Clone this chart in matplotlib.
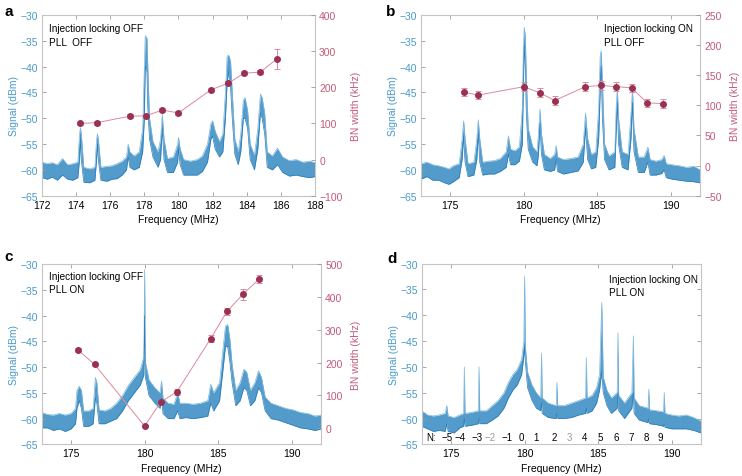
from matplotlib import pyplot as plt

plt.rcParams['font.family'] = ['Liberation Sans', 'DejaVu Sans']
plt.rcParams['font.size'] = 7.5

BLUE = '#3f90c6'
BLUE_TXT = '#4a9ac9'
PINK_TXT = '#c25b78'
DOT = '#9b3152'
LINE = '#dc8a9d'
SPINE = '#c4c4c4'

# ---- spectra (upper / lower edge of the noisy trace, dBm) ----
a_freq = [172.0, 172.3, 172.6, 172.9, 173.2, 173.5, 173.8, 174.1, 174.2, 174.25, 174.3, 174.45,
          174.8, 175.1, 175.2, 175.25, 175.3, 175.45, 175.8, 176.1, 176.4, 176.7, 176.95, 177.05,
          177.15, 177.4, 177.7, 177.9, 178.0, 178.05, 178.15, 178.2, 178.3, 178.5, 178.8, 178.95,
          179.05, 179.15, 179.35, 179.7, 179.95, 180.0, 180.1, 180.3, 180.7, 181.1, 181.4, 181.7,
          181.9, 182.0, 182.15, 182.4, 182.6, 182.75, 182.85, 182.95, 183.05, 183.15, 183.3, 183.5,
          183.65, 183.8, 183.9, 184.05, 184.2, 184.45, 184.65, 184.8, 184.9, 185.05, 185.2, 185.5,
          185.8, 186.1, 186.5, 186.9, 187.3, 187.7, 188.0]
a_hi = [-58.5, -58.8, -58.6, -59.0, -57.8, -59.0, -58.8, -58.5, -53, -51.8, -53, -59.5,
        -59.8, -59.5, -54, -53, -54, -59.5, -59.3, -59.2, -58.8, -58.3, -57.5, -55,
        -56.5, -57.3, -56.5, -52, -40, -34, -34.5, -40, -50, -54.5, -56.5, -54,
        -49.2, -54, -57.8, -57.5, -55, -53.7, -56, -58, -58.3, -58, -57.3, -55,
        -51, -50.5, -52.5, -54.5, -53, -45, -38, -37.8, -39, -45, -54, -56.5,
        -53, -46.5, -46, -48.5, -55, -57.2, -52, -45.3, -46, -49, -56.5, -57.3,
        -55.8, -57.5, -58.2, -58, -58.5, -58.3, -58.6]
a_lo = [-61.5, -61.8, -61.4, -62.0, -61.0, -61.8, -62.0, -61.5, -58, -54, -58, -62.4,
        -62.5, -62, -58, -55, -58, -62, -62.2, -61.8, -61.7, -61, -60, -57.5,
        -59.5, -60, -59.5, -56.5, -50, -40, -41, -48, -54, -57.5, -59.5, -58,
        -52, -58, -60.5, -60.5, -58.5, -56, -59, -61, -61, -61, -60.3, -58.5,
        -54, -53.5, -56, -57.5, -56.5, -50, -43, -41, -44, -50, -57, -59,
        -56.5, -50, -50, -52, -58, -60, -56, -49, -50, -53, -59.5, -60,
        -59, -60.5, -61.2, -61, -61.3, -61.5, -61.3]

b_freq = [173.0, 173.4, 173.8, 174.2, 174.6, 174.9, 175.2, 175.6, 175.8, 175.9, 176.0, 176.2,
          176.6, 176.8, 176.9, 177.0, 177.2, 177.6, 178.0, 178.4, 178.8, 178.95, 179.1, 179.4,
          179.7, 179.9, 179.97, 180.03, 180.1, 180.17, 180.3, 180.6, 180.9, 181.0, 181.1, 181.2,
          181.4, 181.8, 182.1, 182.2, 182.3, 182.7, 183.2, 183.7, 184.05, 184.2, 184.35, 184.6,
          184.9, 185.1, 185.2, 185.27, 185.35, 185.5, 185.8, 186.2, 186.3, 186.37, 186.45, 186.7,
          187.1, 187.3, 187.4, 187.5, 187.8, 188.2, 188.45, 188.6, 189.0, 189.4, 189.55, 189.7,
          190.1, 190.6, 191.1, 191.6, 192.0]
b_hi = [-58.8, -58.5, -59, -59.2, -59.5, -59.8, -59.2, -58.8, -54, -50.5, -54, -58.8,
        -58.5, -54, -50.3, -54, -58.5, -58.3, -58.2, -57.8, -56.5, -53.4, -56, -56.3,
        -55.5, -48, -36, -32.4, -34, -42, -52, -55.5, -56.5, -53, -48.2, -53,
        -57, -57.8, -57, -55.3, -57.5, -58, -57.8, -57.5, -55, -49, -54, -57,
        -56.5, -48, -38, -36.9, -43, -55, -57.3, -56.5, -47, -44.3, -50, -56.5,
        -57, -49, -44.3, -52, -57.5, -57.5, -55.6, -58, -58.3, -58, -57.2, -58.8,
        -59, -59.2, -59.5, -59.3, -60]
b_lo = [-61.8, -61.3, -62, -62, -62.5, -62.8, -62.3, -61.5, -58, -53.5, -58.5, -61.3,
        -61, -58, -53, -58.5, -61, -60.8, -60.8, -60.3, -59.5, -57, -59, -59,
        -58.3, -55, -44, -36, -40, -49, -56, -58.5, -59.2, -57, -51, -57,
        -60, -60.3, -60, -58, -60.3, -60.8, -60.5, -60.2, -58.5, -52, -58, -59.8,
        -59.5, -54, -45, -40, -50, -58, -60, -59.5, -52, -47, -55, -59.5,
        -60, -54, -47, -56.5, -60.5, -60.5, -58.5, -61, -61, -60.7, -60, -61.5,
        -61.8, -62, -62.2, -62.3, -62.5]

c_freq = [173.0, 173.4, 173.8, 174.2, 174.6, 175.0, 175.3, 175.4, 175.55, 175.7, 175.85, 176.2,
          176.5, 176.65, 176.75, 176.9, 177.3, 177.7, 178.1, 178.5, 178.9, 179.3, 179.7, 179.95,
          180.0, 180.05, 180.3, 180.7, 181.05, 181.15, 181.25, 181.6, 182.0, 182.25, 182.4, 182.8,
          183.3, 183.8, 184.3, 184.5, 184.7, 185.1, 185.35, 185.5, 185.65, 185.8, 185.95, 186.2,
          186.5, 186.75, 186.95, 187.2, 187.5, 187.75, 187.95, 188.2, 188.6, 189.1, 189.6, 190.1,
          190.6, 191.1, 191.6, 192.0]
c_hi = [-58.8, -59.2, -59.3, -59, -59.3, -59.0, -58, -54.5, -53.7, -54.5, -58.5, -58.5,
        -58, -52, -53, -58.3, -58.5, -58, -57, -55.5, -53.5, -52, -50.5, -48,
        -31, -49, -52.5, -54, -55, -52.7, -56, -57, -57.2, -55, -57, -57,
        -57.2, -57, -56.5, -53.3, -55, -53, -46, -42, -41.7, -44.5, -49.5, -54.5,
        -53, -50.4, -51, -54.5, -53, -50.7, -52, -55.8, -57, -57.5, -58, -58.3,
        -58.8, -59, -59.5, -59.3]
c_lo = [-61.8, -61.8, -62.3, -62, -62.5, -62.0, -61, -58, -56.5, -58, -61.5, -61.5,
        -61, -56, -57, -61, -61, -60.5, -60, -58.5, -56.5, -55, -53.5, -51.5,
        -40, -52, -55.5, -57, -58, -56, -59, -60, -60, -58.5, -60, -59.8,
        -60, -59.8, -59.5, -57, -58.5, -56.5, -50, -46, -46, -49, -53, -57.5,
        -56.5, -54, -54.5, -57.5, -56.5, -54, -55, -58.5, -60, -60.3, -60.8, -61.3,
        -61.8, -62, -62.3, -62]

d_freq = [173.0, 173.4, 173.8, 174.2, 174.6, 174.7, 174.8, 175.2, 175.6, 175.85, 175.9, 175.95,
          176.4, 176.85, 176.9, 176.95, 177.4, 177.8, 178.2, 178.6, 178.9, 179.2, 179.5, 179.8,
          179.95, 180.0, 180.05, 180.2, 180.5, 180.8, 181.1, 181.15, 181.2, 181.6, 182.15, 182.2,
          182.25, 182.7, 183.2, 183.7, 184.15, 184.2, 184.25, 184.6, 184.9, 185.1, 185.25, 185.35,
          185.6, 185.9, 186.3, 186.35, 186.4, 186.8, 187.3, 187.4, 187.45, 187.8, 188.4, 188.45,
          188.5, 189.0, 189.45, 189.5, 189.55, 190.0, 190.5, 191.0, 191.5, 192.0]
d_hi = [-58.5, -59.3, -59.5, -59.3, -59, -57.5, -59.5, -59.8, -59.3, -59, -50, -59,
        -58.8, -58.5, -50, -58.5, -58.5, -57.5, -56.5, -55, -53, -51.5, -50.5, -48.5,
        -45, -32.4, -46, -51, -53.5, -55, -56, -47.3, -56, -57, -57.5, -53,
        -57.5, -57.5, -57, -56.5, -56, -48.2, -56, -55.5, -54, -51.5, -37.5, -52,
        -54.5, -56, -55, -43.4, -55.5, -57, -55, -44, -56, -57.5, -58, -54.3,
        -58.3, -58.5, -58.7, -55, -59, -59.3, -59.5, -59.3, -59.8, -60.5]
d_lo = [-61.5, -62, -62.5, -62.3, -62.5, -61, -62.5, -62.8, -61.8, -61.5, -60, -61.5,
        -61.3, -61, -60, -61, -61, -60.3, -59.5, -58, -56, -54.5, -53.5, -51.5,
        -48, -46, -49, -54, -56.5, -58, -58.5, -57, -59, -59.8, -60, -59,
        -60, -60, -59.8, -59.3, -59, -58, -59, -58.5, -57, -54.5, -51, -55,
        -57.5, -59, -58, -55, -58.5, -60, -58, -55, -59, -60.3, -60.8, -60,
        -61, -61.2, -61.5, -61, -61.7, -62, -62, -62, -62.3, -62.8]

# ---- BN width (kHz) with error bars ----
a_bn_freq = [174.25, 175.2, 177.15, 178.1, 179.05, 180.0, 181.9, 182.9, 183.85, 184.8, 185.75]
a_bn = [100, 102, 120, 121, 137, 129, 193, 211, 239, 242, 278]
a_bn_err = [5, 5, 6, 6, 6, 6, 5, 5, 5, 5, 27]

b_bn_freq = [175.9, 176.9, 180.0, 181.07, 182.1, 184.2, 185.25, 186.3, 187.35, 188.4, 189.45]
b_bn = [122, 117, 131, 121, 108, 131, 133, 131, 129, 104, 103]
b_bn_err = [7, 7, 7, 7, 7, 7, 8, 7, 7, 7, 7]

c_bn_freq = [175.5, 176.6, 180.0, 181.1, 182.2, 184.5, 185.6, 186.7, 187.8]
c_bn = [237, 194, 6, 79, 111, 273, 356, 409, 455]
c_bn_err = [6, 6, 4, 6, 9, 10, 10, 17, 13]

# harmonic index labels in panel d
n_labels = ['N:', '\u22125', '\u22124', '\u22123', '\u22122', '\u22121', '0', '1', '2', '3',
            '4', '5', '6', '7', '8', '9']
n_freq = [173.65, 174.72, 175.6, 176.76, 177.66, 178.84, 179.81, 180.8, 182.0, 183.07,
          184.1, 185.17, 186.24, 187.25, 188.25, 189.24]
n_grey = ['\u22122', '3']


def style_axes(ax, xlim, xticks):
    ax.set_xlim(*xlim)
    ax.set_ylim(-65, -30)
    ax.set_xticks(xticks)
    ax.set_yticks(range(-65, -29, 5))
    ax.set_yticklabels([str(v).replace('-', '\u2212') for v in range(-65, -29, 5)])
    for s in ax.spines.values():
        s.set_color(SPINE)
        s.set_linewidth(0.8)
    ax.tick_params(direction='in', length=3, width=0.6, color='#999999', top=True, pad=3)
    ax.tick_params(axis='y', labelcolor=BLUE_TXT)
    ax.set_xlabel('Frequency (MHz)', labelpad=3)
    ax.set_ylabel('Signal (dBm)', color=BLUE_TXT, labelpad=1)


def draw_spectrum(ax, freq, hi, lo):
    ax.fill_between(freq, lo, hi, color=BLUE, lw=0, alpha=0.9)
    ax.plot(freq, hi, color='#7ab6de', lw=0.5)
    ax.plot(freq, lo, color='#2b7db8', lw=0.5)


def draw_bn(ax, freq, bn, err, ylim, yticks):
    tw = ax.twinx()
    tw.errorbar(freq, bn, yerr=err, color=LINE, lw=0.7, ecolor=LINE, elinewidth=0.7,
                capsize=2.2, capthick=0.7, marker='o', ms=4, mfc=DOT, mec=DOT, zorder=5)
    tw.set_ylim(*ylim)
    tw.set_yticks(yticks)
    tw.set_yticklabels([str(v).replace('-', '\u2212') for v in yticks])
    for s in tw.spines.values():
        s.set_visible(False)
    tw.tick_params(direction='in', length=3, width=0.6, color='#999999', labelcolor=PINK_TXT, pad=3)
    tw.set_ylabel('BN width (kHz)', color=PINK_TXT, labelpad=6)
    return tw


fig = plt.figure(figsize=(7.42, 4.77), dpi=100)
ax_a = fig.add_axes([0.0566, 0.5876, 0.3679, 0.3789])
ax_b = fig.add_axes([0.5674, 0.5876, 0.3760, 0.3789])
ax_c = fig.add_axes([0.0562, 0.0664, 0.3764, 0.3774])
ax_d = fig.add_axes([0.5683, 0.0664, 0.3764, 0.3787])

style_axes(ax_a, (172, 188), range(172, 189, 2))
draw_spectrum(ax_a, a_freq, a_hi, a_lo)
draw_bn(ax_a, a_bn_freq, a_bn, a_bn_err, (-100, 400), list(range(-100, 401, 100)))
ax_a.text(0.027, 0.955, 'Injection locking OFF\nPLL  OFF', transform=ax_a.transAxes,
          va='top', ha='left', fontsize=7.2, linespacing=1.45)

style_axes(ax_b, (173, 192), [175, 180, 185, 190])
draw_spectrum(ax_b, b_freq, b_hi, b_lo)
draw_bn(ax_b, b_bn_freq, b_bn, b_bn_err, (-50, 250), list(range(-50, 251, 50)))
ax_b.text(0.655, 0.955, 'Injection locking ON\nPLL OFF', transform=ax_b.transAxes,
          va='top', ha='left', fontsize=7.2, linespacing=1.45)

style_axes(ax_c, (173, 192), [175, 180, 185, 190])
draw_spectrum(ax_c, c_freq, c_hi, c_lo)
draw_bn(ax_c, c_bn_freq, c_bn, c_bn_err, (-50, 500), list(range(0, 501, 100)))
ax_c.text(0.027, 0.965, 'Injection locking OFF\nPLL ON', transform=ax_c.transAxes,
          va='top', ha='left', fontsize=7.2, linespacing=1.45)

style_axes(ax_d, (173, 192), [175, 180, 185, 190])
draw_spectrum(ax_d, d_freq, d_hi, d_lo)
ax_d.tick_params(right=True)
ax_d.text(0.67, 0.945, 'Injection locking ON\nPLL ON', transform=ax_d.transAxes,
          va='top', ha='left', fontsize=7.2, linespacing=1.45)
for lab, f in zip(n_labels, n_freq):
    ax_d.text(f, -63.6, lab, ha='center', va='center', fontsize=7,
              color='#999999' if lab in n_grey else 'black')

for lab, x, y in [('a', 0.006, 0.99), ('b', 0.52, 0.99), ('c', 0.006, 0.475), ('d', 0.522, 0.472)]:
    fig.text(x, y, lab, fontsize=11, fontweight='bold', va='top', ha='left')

fig.savefig('out.png', dpi=100)
